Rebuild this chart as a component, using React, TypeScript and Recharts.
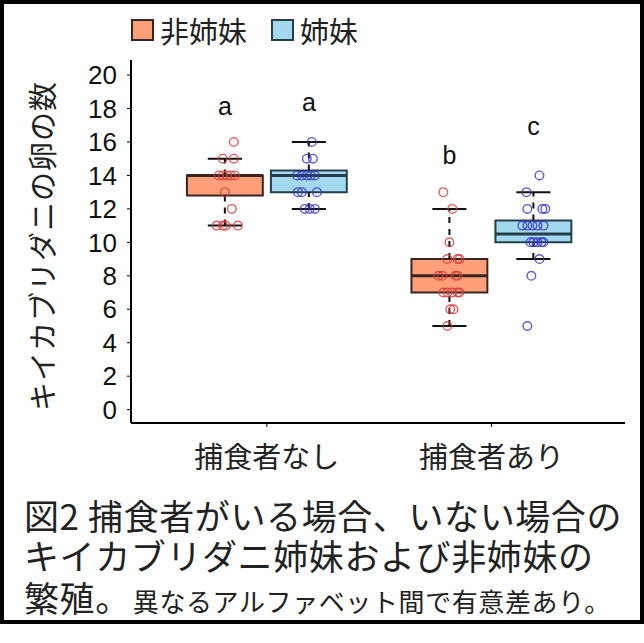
import React from "react";
import {
  ScatterChart,
  Scatter,
  XAxis,
  YAxis,
  ReferenceArea,
  ReferenceLine,
} from "recharts";

// カテゴリと系列
const groups = ["捕食者なし", "捕食者あり"];
const groupX = [0, 10];
const seriesNames = ["非姉妹", "姉妹"];
const seriesOffset = [-1.87, 1.87];
const yTicks = [0, 2, 4, 6, 8, 10, 12, 14, 16, 18, 20];

// 箱ひげの統計値 [下ひげ, Q1, 中央値, Q3, 上ひげ] (捕食者なし, 捕食者あり)
const nonSisterStats = [
  [11, 12.8, 14, 14, 15],
  [5, 7, 8, 9, 12],
];
const sisterStats = [
  [12, 13, 14, 14.3, 16],
  [9, 10, 10.5, 11.3, 13],
];

// 個体ごとの卵数と横方向のずらし
const nonSisterNoPred = [16, 15, 15, 14, 14, 14, 14, 14, 13, 12, 11, 11, 11, 11];
const nonSisterNoPredJitter = [0.4, -0.09, 0.4, -0.27, -0.09, 0.09, 0.27, 0.45, 0, 0.31, -0.36, -0.09, 0.04, 0.58];
const sisterNoPred = [16, 15, 15, 14, 14, 14, 14, 14, 13, 13, 13, 12, 12, 12];
const sisterNoPredJitter = [0.13, -0.09, 0.18, -0.53, -0.31, -0.09, 0.09, 0.27, -0.49, -0.31, 0.36, -0.18, 0.04, 0.27];
const nonSisterPred = [13, 12, 10, 9, 9, 9, 8, 8, 8, 8, 7, 7, 7, 7, 7, 6, 6, 5];
const nonSisterPredJitter = [-0.27, 0.13, 0, -0.09, 0.36, 0.45, -0.49, -0.31, 0.27, 0.36, -0.27, -0.09, 0.13, 0.36, 0.45, 0.04, 0.18, -0.09];
const sisterPred = [14, 13, 12, 12, 12, 11, 11, 11, 11, 11, 10, 10, 10, 10, 10, 9, 8, 5];
const sisterPredJitter = [0.27, -0.31, -0.27, 0.4, 0.53, -0.49, -0.27, -0.04, 0.18, 0.45, -0.13, 0, 0.18, 0.36, 0.45, 0.27, -0.09, -0.27];

// 有意差の文字 (非姉妹なし, 姉妹なし, 非姉妹あり, 姉妹あり)
const letters = ["a", "a", "b", "c"];
const letterY = [17.6, 17.85, 14.7, 16.4];

const boxFill = ["#FFA07A", "#A3D8EE"];
const boxStroke = ["#3a2520", "#26404a"];
const pointColor = ["#D43A3A", "#3333C4"];

const BOX_HALF = 1.69;
const CAP_HALF = 0.76;

const cjk = "'Noto Sans CJK JP', 'Noto Sans', sans-serif";
const latin = "'Liberation Sans', Arial, sans-serif";

const toPoints = (vals: number[], jit: number[], center: number) =>
  vals.map((y, i) => ({ x: center + jit[i], y }));

const centers = [
  groupX[0] + seriesOffset[0],
  groupX[0] + seriesOffset[1],
  groupX[1] + seriesOffset[0],
  groupX[1] + seriesOffset[1],
];

const redPoints = [
  ...toPoints(nonSisterNoPred, nonSisterNoPredJitter, centers[0]),
  ...toPoints(nonSisterPred, nonSisterPredJitter, centers[2]),
];
const bluePoints = [
  ...toPoints(sisterNoPred, sisterNoPredJitter, centers[1]),
  ...toPoints(sisterPred, sisterPredJitter, centers[3]),
];
const letterData = letters.map((t, i) => ({ x: centers[i], y: letterY[i], t }));

const boxes = [
  { c: centers[0], s: nonSisterStats[0], k: 0 },
  { c: centers[1], s: sisterStats[0], k: 1 },
  { c: centers[2], s: nonSisterStats[1], k: 0 },
  { c: centers[3], s: sisterStats[1], k: 1 },
];

const YLabel = () => (
  <text
    x={41}
    y={246}
    transform="rotate(-90 41 246)"
    textAnchor="middle"
    dominantBaseline="central"
    fontFamily={cjk}
    fontSize={29}
    letterSpacing={1}
    fill="#222"
  >
    キイカブリダニの卵の数
  </text>
);

const captionLine: React.CSSProperties = {
  position: "absolute",
  left: 24,
  height: 40,
  lineHeight: "40px",
  fontFamily: cjk,
  fontSize: 35,
  letterSpacing: 0.6,
  color: "#222",
  whiteSpace: "nowrap",
};

export default function App() {
  return (
    <div style={{ position: "absolute", left: 0, top: 0, width: 644, height: 643, background: "#fff" }}>
      <div
        style={{
          position: "absolute",
          left: 0,
          top: 0,
          width: 644,
          height: 624,
          border: "4px solid #000",
          boxSizing: "border-box",
        }}
      />
      {/* 凡例 */}
      <div style={{ position: "absolute", left: 131, top: 14, display: "flex", alignItems: "center", fontFamily: cjk, fontSize: 29, color: "#222", lineHeight: "32px" }}>
        {seriesNames.map((n, i) => (
          <div key={n} style={{ display: "flex", alignItems: "center", marginRight: 24 }}>
            <div style={{ width: 19, height: 18, background: boxFill[i], border: `2px solid ${boxStroke[i]}`, marginRight: 6 }} />
            <span>{n}</span>
          </div>
        ))}
      </div>
      <div style={{ position: "absolute", left: 0, top: 0 }}>
        <ScatterChart width={644} height={480} margin={{ top: 60, right: 19, bottom: 0, left: 0 }}>
          <XAxis
            type="number"
            dataKey="x"
            domain={[-6.05, 15.95]}
            ticks={groupX}
            tickFormatter={(v: number) => groups[groupX.indexOf(v)] ?? ""}
            height={57}
            tickSize={4}
            tickMargin={20}
            axisLine={{ stroke: "#000", strokeWidth: 2 }}
            tickLine={{ stroke: "#000", strokeWidth: 1 }}
            tick={{ fill: "#222", fontSize: 29, fontFamily: cjk }}
            allowDataOverflow
          />
          <YAxis
            type="number"
            dataKey="y"
            domain={[-0.8, 20.9]}
            ticks={yTicks}
            interval={0}
            width={131}
            tickSize={4}
            tickMargin={10}
            axisLine={{ stroke: "#000", strokeWidth: 2 }}
            tickLine={{ stroke: "#000", strokeWidth: 1 }}
            tick={{ fill: "#111", fontSize: 26, fontFamily: latin }}
            label={<YLabel />}
            allowDataOverflow
          />
          {boxes.map((b, i) => (
            <ReferenceLine
              key={`wu-${i}`}
              segment={[{ x: b.c, y: b.s[3] }, { x: b.c, y: b.s[4] }]}
              stroke="#111"
              strokeWidth={2}
              strokeDasharray="6 6"
            />
          ))}
          {boxes.map((b, i) => (
            <ReferenceLine
              key={`wl-${i}`}
              segment={[{ x: b.c, y: b.s[0] }, { x: b.c, y: b.s[1] }]}
              stroke="#111"
              strokeWidth={2}
              strokeDasharray="6 6"
            />
          ))}
          {boxes.map((b, i) => (
            <ReferenceLine
              key={`cu-${i}`}
              segment={[{ x: b.c - CAP_HALF, y: b.s[4] }, { x: b.c + CAP_HALF, y: b.s[4] }]}
              stroke="#111"
              strokeWidth={2}
            />
          ))}
          {boxes.map((b, i) => (
            <ReferenceLine
              key={`cl-${i}`}
              segment={[{ x: b.c - CAP_HALF, y: b.s[0] }, { x: b.c + CAP_HALF, y: b.s[0] }]}
              stroke="#111"
              strokeWidth={2}
            />
          ))}
          {boxes.map((b, i) => (
            <ReferenceArea
              key={`bx-${i}`}
              x1={b.c - BOX_HALF}
              x2={b.c + BOX_HALF}
              y1={b.s[1]}
              y2={b.s[3]}
              fill={boxFill[b.k]}
              fillOpacity={1}
              stroke={boxStroke[b.k]}
              strokeWidth={2}
            />
          ))}
          {boxes.map((b, i) => (
            <ReferenceLine
              key={`md-${i}`}
              segment={[{ x: b.c - BOX_HALF, y: b.s[2] }, { x: b.c + BOX_HALF, y: b.s[2] }]}
              stroke={boxStroke[b.k]}
              strokeWidth={3}
            />
          ))}
          <Scatter
            data={redPoints}
            isAnimationActive={false}
            shape={(p: any) => (
              <circle cx={p.cx} cy={p.cy} r={4.3} fill="none" stroke={pointColor[0]} strokeOpacity={0.8} strokeWidth={1.4} />
            )}
          />
          <Scatter
            data={bluePoints}
            isAnimationActive={false}
            shape={(p: any) => (
              <circle cx={p.cx} cy={p.cy} r={4.3} fill="none" stroke={pointColor[1]} strokeOpacity={0.8} strokeWidth={1.4} />
            )}
          />
          <Scatter
            data={letterData}
            isAnimationActive={false}
            shape={(p: any) => (
              <text x={p.cx} y={p.cy} textAnchor="middle" fontFamily={latin} fontSize={25} fill="#111">
                {p.payload.t}
              </text>
            )}
          />
        </ScatterChart>
      </div>
      {/* キャプション */}
      <div style={{ ...captionLine, top: 495 }}>図2 捕食者がいる場合、いない場合の</div>
      <div style={{ ...captionLine, top: 535 }}>キイカブリダニ姉妹および非姉妹の</div>
      <div style={{ ...captionLine, top: 577 }}>
        繁殖。<span style={{ fontSize: 26, marginLeft: 2 }}>異なるアルファベット間で有意差あり。</span>
      </div>
    </div>
  );
}
